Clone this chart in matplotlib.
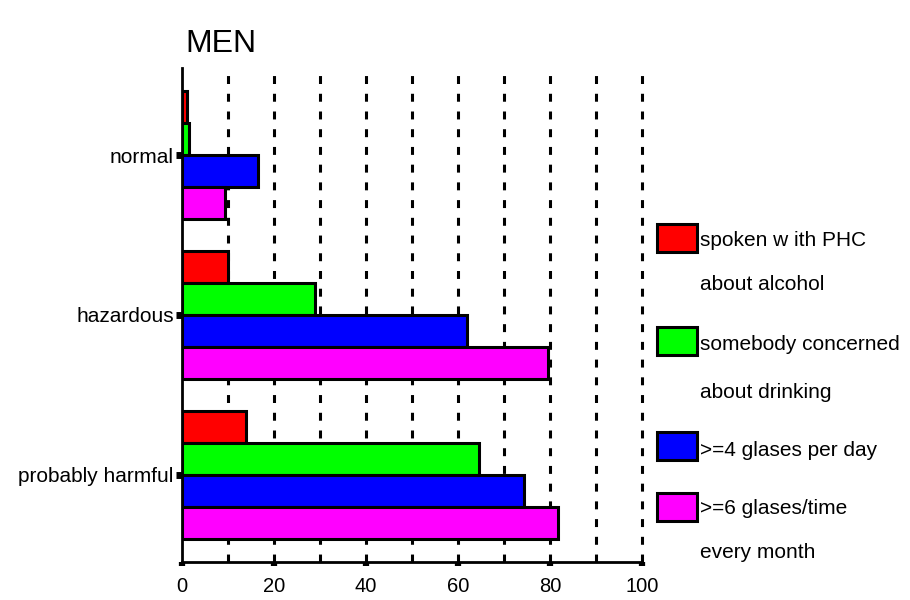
import matplotlib
matplotlib.use("Agg")
import matplotlib.pyplot as plt
from matplotlib.patches import Rectangle
import numpy as np

plt.rcParams['font.family'] = ['Liberation Sans', 'DejaVu Sans']

categories = ["normal", "hazardous", "probably harmful"]
spoken_phc = [1.0, 10.0, 14.0]
somebody_concerned = [1.5, 29.0, 64.5]
four_glasses_day = [16.5, 62.0, 74.3]
six_glasses_month = [9.3, 79.6, 81.7]
series_values = [spoken_phc, somebody_concerned, four_glasses_day, six_glasses_month]
colors = ["#FF0000", "#00FF00", "#0000FF", "#FF00FF"]
xticks = [0, 20, 40, 60, 80, 100]
title = "MEN"
legend_lines = [["spoken w ith PHC", "about alcohol"],
                ["somebody concerned", "about drinking"],
                [">=4 glases per day"],
                [">=6 glases/time", "every month"]]

fig = plt.figure(figsize=(9.1, 6.0), dpi=100)
ax = fig.add_axes([182/910, 38/600, 460/910, 494/600])

y = np.arange(len(categories))
bh = 0.2
offsets = [-0.3, -0.1, 0.1, 0.3]
for vals, col, off in zip(series_values, colors, offsets):
    ax.barh(y + off, vals, height=bh, color=col, edgecolor="black", linewidth=2.2, zorder=3)

for gx in range(10, 101, 10):
    ax.axvline(gx, color="black", linewidth=2.2, linestyle=(0, (2.6, 3.2)),
               zorder=1, clip_on=False)

ax.set_xlim(0, 100)
ax.set_ylim(2.544, -0.544)
ax.set_yticks(y)
ax.set_yticklabels(categories, fontsize=15)
ax.set_xticks(xticks)
ax.set_xticklabels([str(t) for t in xticks], fontsize=14.5)
ax.tick_params(axis="x", direction="out", length=3, width=4.5, pad=8)
ax.tick_params(axis="y", direction="out", length=4, width=5, pad=2)
for s in ["top", "right"]:
    ax.spines[s].set_visible(False)
for s in ["left", "bottom"]:
    ax.spines[s].set_linewidth(2)
    ax.spines[s].set_zorder(4)

fig.text(185/910, 1 - 52/600, title, fontsize=23, ha="left", va="baseline")

# legend (manual layout)
box_tops = [224, 327, 432, 493]
box_h = 28
line_y = [[240, 285], [345, 392], [450], [509, 553]]
for top, col, lines, ys in zip(box_tops, colors, legend_lines, line_y):
    fig.patches.append(Rectangle((657/910, 1 - (top + box_h)/600), 40/910, box_h/600,
                                 transform=fig.transFigure, facecolor=col,
                                 edgecolor="black", linewidth=2.2))
    for txt, yc in zip(lines, ys):
        fig.text(700/910, 1 - yc/600, txt, fontsize=15, ha="left", va="center")

fig.savefig("out.png", dpi=100)
